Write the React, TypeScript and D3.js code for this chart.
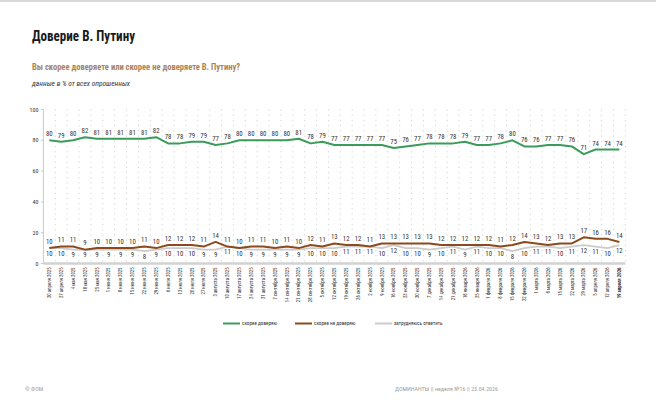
import React from "react";
import * as d3 from "d3";

const dates: string[] = [
  "20 апреля 2025", "27 апреля 2025", "4 мая 2025", "18 мая 2025", "25 мая 2025",
  "1 июня 2025", "8 июня 2025", "15 июня 2025", "22 июня 2025", "29 июня 2025",
  "6 июля 2025", "13 июля 2025", "20 июля 2025", "27 июля 2025",
  "3 августа 2025", "10 августа 2025", "17 августа 2025", "24 августа 2025", "31 августа 2025",
  "7 сентября 2025", "14 сентября 2025", "21 сентября 2025", "28 сентября 2025",
  "5 октября 2025", "12 октября 2025", "19 октября 2025", "26 октября 2025",
  "2 ноября 2025", "9 ноября 2025", "16 ноября 2025", "23 ноября 2025", "30 ноября 2025",
  "7 декабря 2025", "14 декабря 2025", "21 декабря 2025",
  "18 января 2026", "25 января 2026",
  "1 февраля 2026", "8 февраля 2026", "15 февраля 2026", "22 февраля 2026",
  "1 марта 2026", "8 марта 2026", "15 марта 2026", "22 марта 2026", "29 марта 2026",
  "5 апреля 2026", "12 апреля 2026", "19 апреля 2026",
];

const trust: number[] = [
  80, 79, 80, 82, 81, 81, 81, 81, 81, 82, 78, 78, 79, 79, 77, 78, 80, 80, 80, 80,
  80, 81, 78, 79, 77, 77, 77, 77, 77, 75, 76, 77, 78, 78, 78, 79, 77, 77, 78, 80,
  76, 76, 77, 77, 76, 71, 74, 74, 74,
];

const distrust: number[] = [
  10, 11, 11, 9, 10, 10, 10, 10, 11, 10, 12, 12, 12, 11, 14, 11, 10, 11, 11, 10,
  11, 10, 12, 11, 13, 12, 12, 11, 13, 13, 13, 13, 13, 12, 12, 12, 12, 12, 11, 12,
  14, 13, 12, 13, 13, 17, 16, 16, 14,
];

const unsure: number[] = [
  10, 10, 9, 9, 9, 9, 9, 9, 8, 9, 10, 10, 10, 9, 9, 11, 10, 9, 9, 9,
  9, 9, 10, 10, 10, 11, 11, 11, 10, 12, 10, 10, 9, 10, 11, 9, 11, 10, 10, 8,
  10, 11, 11, 10, 11, 12, 11, 10, 12,
];

const yTicks: number[] = [0, 20, 40, 60, 80, 100];

const seriesNames = ["скорее доверяю", "скорее не доверяю", "затрудняюсь ответить"];
const seriesColors = ["#3a9b5b", "#8c4a1c", "#cbcbcb"];

const FONT = "'Liberation Sans Narrow', 'Roboto Condensed', 'Open Sans', sans-serif";

export default function App() {
  const W = 656;
  const H = 406;
  const x = d3.scaleBand<string>().domain(dates).range([43.4, 625.3]).padding(0);
  const y = d3.scaleLinear().domain([0, 100]).range([263.5, 109.5]);
  const cx = (i: number) => (x(dates[i]) as number) + x.bandwidth() / 2;

  const line = d3
    .line<number>()
    .x((_, i) => cx(i))
    .y((d) => y(d))
    .curve(d3.curveLinear);

  const series = [trust, distrust, unsure];
  const labelDy = [-4, -4.2, 7.6];

  return (
    <div style={{ position: "absolute", left: 0, top: 0 }}>
      <svg width={W} height={H} style={{ display: "block", background: "#fff" }} fontFamily={FONT}>
        <rect x={0} y={0} width={W} height={2} fill="#d9d9d9" />
        <text x={32} y={41} fontSize={15} fontWeight={700} fill="#1a1a1a" textLength={103} lengthAdjust="spacingAndGlyphs">
          Доверие В. Путину
        </text>
        <text x={32} y={70} fontSize={9.8} fontWeight={700} fill="#a9845a" textLength={208} lengthAdjust="spacingAndGlyphs">
          Вы скорее доверяете или скорее не доверяете В. Путину?
        </text>
        <text x={32} y={85.5} fontSize={7} fontStyle="italic" fill="#333" textLength={98} lengthAdjust="spacingAndGlyphs">
          данные в % от всех опрошенных
        </text>

        {/* vertical dotted grid */}
        {dates.map((d, i) =>
          i === 0 ? null : (
            <line
              key={"g" + d}
              x1={x(d)}
              x2={x(d)}
              y1={y(100)}
              y2={y(0) - 2}
              stroke="#c8c8c8"
              strokeWidth={0.8}
              strokeDasharray="1.2 4"
            />
          )
        )}
        <line x1={625.3} x2={625.3} y1={y(100)} y2={y(0) - 2} stroke="#c8c8c8" strokeWidth={0.8} strokeDasharray="1.2 4" />

        {/* y axis */}
        <line x1={43.4} x2={43.4} y1={y(100)} y2={y(0)} stroke="#bdbdbd" strokeWidth={0.8} />
        {yTicks.map((t) => (
          <g key={"yt" + t}>
            <line x1={41} x2={43.4} y1={y(t)} y2={y(t)} stroke="#bdbdbd" strokeWidth={0.8} />
            <text x={38.5} y={y(t)} dy="0.35em" fontSize={6} textAnchor="end" fill="#333">
              {t}
            </text>
          </g>
        ))}

        {/* x axis */}
        <line x1={43.4} x2={625.3} y1={y(0)} y2={y(0)} stroke="#d2d2d2" strokeWidth={2.6} />
        {dates.map((d, i) => (
          <text
            key={"xl" + d}
            transform={`translate(${cx(i)},267.5) rotate(-90)`}
            textAnchor="end"
            dy="0.35em"
            fontSize={4.8}
            fontWeight={i === dates.length - 1 ? 700 : 400}
            fill="#333"
          >
            {d}
          </text>
        ))}

        {/* lines */}
        {[2, 1, 0].map((s) => (
          <path
            key={"l" + s}
            d={line(series[s]) || ""}
            fill="none"
            stroke={seriesColors[s]}
            strokeWidth={s === 2 ? 1.8 : 2}
            strokeLinejoin="round"
          />
        ))}

        {/* data labels */}
        {series.map((vals, s) =>
          vals.map((v, i) => (
            <text
              key={"dl" + s + "-" + i}
              x={cx(i)}
              y={y(v) + labelDy[s]}
              fontSize={6.8}
              textAnchor="middle"
              fill="#333"
            >
              {v}
            </text>
          ))
        )}

        {/* legend */}
        {seriesNames.map((n, k) => {
          const lx = [223, 295, 375][k];
          return (
            <g key={"lg" + k}>
              <line x1={lx} x2={lx + 17} y1={323.5} y2={323.5} stroke={seriesColors[k]} strokeWidth={2} />
              <text x={lx + 19} y={323.5} dy="0.35em" fontSize={5.2} fill="#333">
                {n}
              </text>
            </g>
          );
        })}

        {/* footer */}
        <text x={25} y={389} dy="0.35em" fontSize={6} fill="#a0a0a0">
          © ФОМ
        </text>
        <text x={498} y={389} dy="0.35em" fontSize={6} fill="#a0a0a0" textAnchor="end">
          ДОМИНАНТЫ {"||"} неделя №16 {"||"} 23.04.2026
        </text>
      </svg>
    </div>
  );
}
